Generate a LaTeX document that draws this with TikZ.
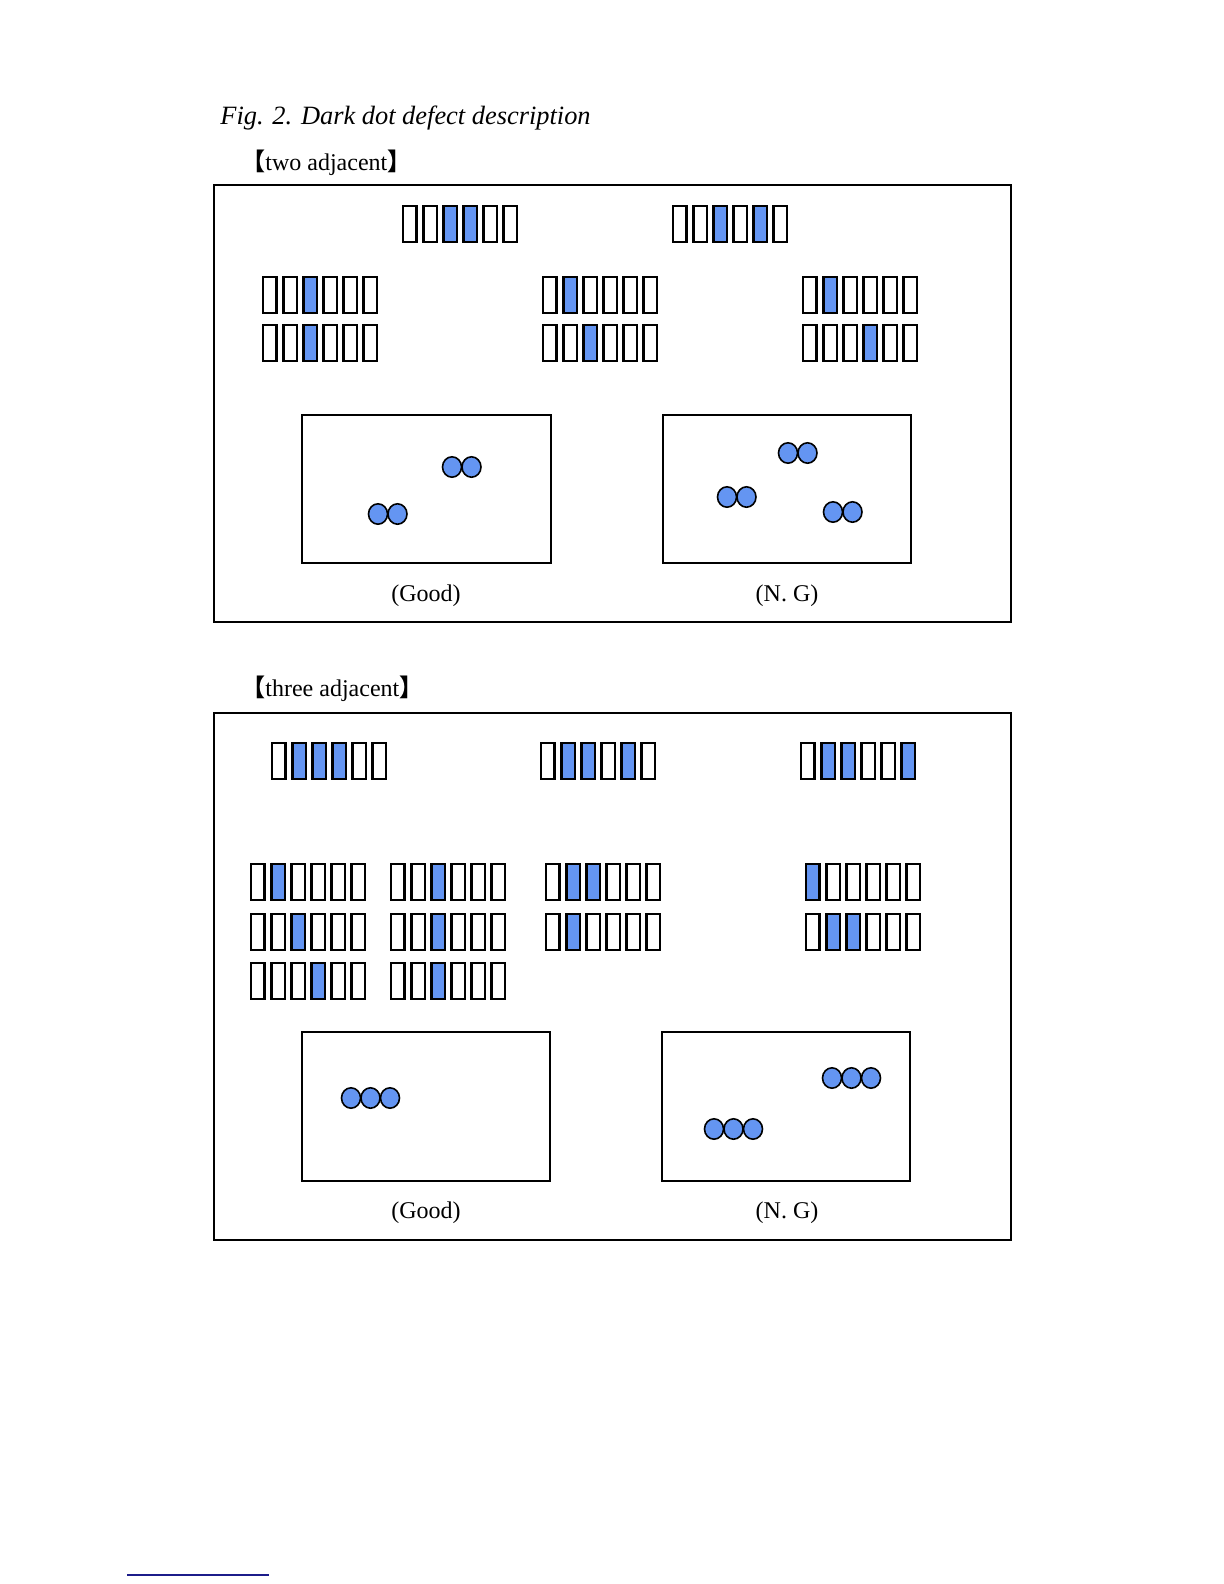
\documentclass[tikz,border=0pt]{standalone}
\usepackage{fontspec}
\setmainfont{Liberation Serif}
\newfontfamily\cjkfont{Noto Sans CJK SC}
\definecolor{dotblue}{HTML}{6495F2}
\definecolor{rulenavy}{HTML}{1C1C8A}

\tikzset{
  cellbox/.style={draw=black, line width=1.25pt, fill=white},
  bluecell/.style={cellbox, fill=dotblue},
  frame/.style={draw=black, line width=1pt},
  panel/.style={draw=black, line width=1pt},
  defect/.style={draw=black, line width=0.8pt, fill=dotblue},
  caption/.style={font=\fontsize{12}{14}\selectfont},
}

% six sub-pixels in a row: left x, top y, list of dark ones
\newcommand{\cellrow}[3]{%
  \foreach \i in {1,...,6}
    \draw[cellbox] ({#1+1.2+(\i-1)*20.1},#2+1.2) rectangle ++(13.5,35.6);
  \foreach \i in {#3}
    \draw[bluecell] ({#1+1.2+(\i-1)*20.1},#2+1.2) rectangle ++(13.5,35.6);
}
% a run of dark dots: first centre x, centre y, count
\newcommand{\dotrun}[3]{%
  \foreach \k in {1,...,#3}
    \draw[defect] ({#1+(\k-1)*19.5},#2) ellipse (9.5 and 10.2);
}

\begin{document}
\begin{tikzpicture}[x=0.5pt, y=-0.5pt]
  \useasboundingbox[fill=white] (0,0) rectangle (1224,1584);

  \node[anchor=base west, inner sep=0pt, font=\fontsize{13.2}{16}\selectfont\itshape]
    (title) at (220,125) {Fig. 2. Dark dot defect description};

  % two adjacent
  \node[anchor=base west, inner sep=0pt, caption]
    (twohead) at (241,170) {{\cjkfont\bfseries 【}two adjacent{\cjkfont\bfseries 】}};
  \draw[frame] (214,185) rectangle (1011,622);

  \cellrow{402}{205}{3,4}
  \cellrow{672}{205}{3,5}
  \cellrow{262}{276}{3}
  \cellrow{542}{276}{2}
  \cellrow{802}{276}{2}
  \cellrow{262}{324}{3}
  \cellrow{542}{324}{3}
  \cellrow{802}{324}{4}

  \draw[panel] (302,415) rectangle (551,563);
  \draw[panel] (663,415) rectangle (911,563);
  \dotrun{452}{467}{2}
  \dotrun{378}{514}{2}
  \dotrun{788}{453}{2}
  \dotrun{727}{497}{2}
  \dotrun{833}{512}{2}
  \node[caption] (twogood) at (426,596) {(Good)};
  \node[caption] (twong) at (787,596) {(N. G)};

  % three adjacent
  \node[anchor=base west, inner sep=0pt, caption]
    (threehead) at (241,696) {{\cjkfont\bfseries 【}three adjacent{\cjkfont\bfseries 】}};
  \draw[frame] (214,713) rectangle (1011,1240);

  \cellrow{271}{742}{2,3,4}
  \cellrow{540}{742}{2,3,5}
  \cellrow{800}{742}{2,3,6}
  \cellrow{250}{863}{2}
  \cellrow{250}{913}{3}
  \cellrow{250}{962}{4}
  \cellrow{390}{863}{3}
  \cellrow{390}{913}{3}
  \cellrow{390}{962}{3}
  \cellrow{545}{863}{2,3}
  \cellrow{545}{913}{2}
  \cellrow{805}{863}{1}
  \cellrow{805}{913}{2,3}

  \draw[panel] (302,1032) rectangle (550,1181);
  \draw[panel] (662,1032) rectangle (910,1181);
  \dotrun{351}{1098}{3}
  \dotrun{832}{1078}{3}
  \dotrun{714}{1129}{3}
  \node[caption] (threegood) at (426,1213) {(Good)};
  \node[caption] (threeng) at (787,1213) {(N. G)};

  \draw[rulenavy, line width=1pt] (127,1575) -- (269,1575);
\end{tikzpicture}
\end{document}
